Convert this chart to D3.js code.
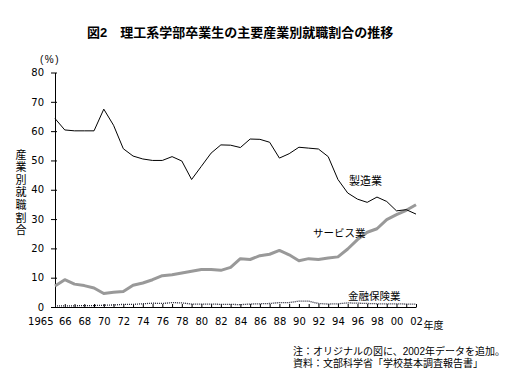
<!DOCTYPE html>
<html><head><meta charset="utf-8">
<script src="https://cdn.jsdelivr.net/npm/d3@7"></script>
<style>
html,body{margin:0;padding:0;background:#fff;}
svg{display:block;font-family:"Liberation Sans","Noto Sans CJK JP",sans-serif;}
</style></head>
<body>
<svg id="chart" width="523" height="380"></svg>
<script>
const years = d3.range(1965, 2003);
const manufacturing = [64.3,60.4,60.1,60.1,60.1,67.5,62.0,54.0,51.5,50.5,50.0,50.0,51.3,49.8,43.5,48.0,52.5,55.3,55.2,54.4,57.3,57.2,56.2,50.8,52.3,54.5,54.2,53.9,51.3,43.5,38.9,36.8,35.7,37.5,36.0,32.8,33.2,31.7];
const services = [7.2,9.3,7.8,7.3,6.5,4.6,5.0,5.3,7.4,8.2,9.3,10.7,11.0,11.6,12.2,12.8,12.8,12.5,13.5,16.5,16.2,17.5,18.0,19.3,17.8,15.8,16.5,16.2,16.7,17.1,19.8,23.0,25.5,26.7,29.8,31.5,33.0,34.9];
const finance = [0.4,0.4,0.4,0.5,0.5,0.6,0.7,0.9,0.9,1.1,1.3,1.2,1.5,1.4,1.0,1.0,1.0,0.9,0.9,0.8,1.0,1.1,1.2,1.5,1.5,2.0,2.0,1.2,1.0,1.1,1.4,1.3,1.2,1.1,1.1,1.1,1.0,1.0];
const seriesNames = ["製造業","サービス業","金融保険業"];
const xLabelYears = [1965,1966,1968,1970,1972,1974,1976,1978,1980,1982,1984,1986,1988,1990,1992,1994,1996,1998,2000,2002];
const xLabels = ["1965","66","68","70","72","74","76","78","80","82","84","86","88","90","92","94","96","98","00","02"];
const yTicks = [0,10,20,30,40,50,60,70,80];
const title = "図2　理工系学部卒業生の主要産業別就職割合の推移";
const yTitle = "産業別就職割合";
const notes = ["注：オリジナルの図に、2002年データを追加。","資料：文部科学省「学校基本調査報告書」"];

const svg = d3.select("#chart");
const x = d3.scaleLinear().domain([1965, 2002]).range([55, 416]);
const y = d3.scaleLinear().domain([0, 80]).range([307, 72.5]);

// title
svg.append("text").attr("x", 87).attr("y", 37).attr("font-size", 13).attr("font-weight", "bold").text(title);

// y axis
const yAxis = svg.append("g").attr("transform", `translate(${x(1965)},0)`)
  .call(d3.axisLeft(y).tickValues(yTicks).tickSize(4).tickSizeOuter(0).tickPadding(7));
yAxis.select(".domain").attr("stroke", "#000");
yAxis.selectAll("text").attr("font-size", 10).attr("font-family", "'DejaVu Sans', sans-serif").attr("fill", "#000");
yAxis.selectAll(".tick line").attr("x2", -4).attr("x1", 2);

// x axis
const labelMap = new Map(xLabelYears.map((d, i) => [d, xLabels[i]]));
const xAxis = svg.append("g").attr("transform", `translate(0,${y(0)})`)
  .call(d3.axisBottom(x).tickValues(years).tickSizeInner(-3).tickSizeOuter(0).tickPadding(11)
    .tickFormat(d => labelMap.get(d) || ""));
xAxis.select(".domain").attr("stroke", "#000");
xAxis.selectAll("text").attr("font-size", 10).attr("font-family", "'DejaVu Sans', sans-serif").attr("fill", "#000");
xAxis.selectAll(".tick").filter(d => d === 1965).select("text").attr("text-anchor", "end").attr("dx", -2);
svg.append("text").attr("x", 423.5).attr("y", y(0) + 22).attr("font-size", 10).text("年度");

// (%)
svg.append("text").attr("x", 40).attr("y", 63).attr("font-size", 10).style("letter-spacing", "1.5px").text("(%)");

// y title vertical
svg.append("text").attr("x", 20).attr("y", 149)
  .style("writing-mode", "vertical-rl").style("letter-spacing", "1.6px")
  .attr("font-size", 11).text(yTitle);

// lines
const line = vals => d3.line().x((d, i) => x(years[i])).y(d => y(d))(vals);
svg.append("path").attr("d", line(services)).attr("fill", "none").attr("stroke", "#999").attr("stroke-width", 3).attr("stroke-linejoin", "round");
svg.append("path").attr("d", line(finance)).attr("fill", "none").attr("stroke", "#223").attr("stroke-width", 1.3).attr("stroke-dasharray", "1,1");
svg.append("path").attr("d", line(manufacturing)).attr("fill", "none").attr("stroke", "#000").attr("stroke-width", 1);

// series labels
svg.append("text").attr("x", 349).attr("y", 185).attr("font-size", 11).text(seriesNames[0]);
svg.append("text").attr("x", 313).attr("y", 237).attr("font-size", 10.5).text(seriesNames[1]);
svg.append("text").attr("x", 348).attr("y", 300).attr("font-size", 10.5).text(seriesNames[2]);

// notes
svg.append("g").selectAll("text").data(notes).join("text")
  .attr("x", 293).attr("y", (d, i) => 355 + i * 11.5).attr("font-size", 10).text(d => d);
</script>
</body></html>
